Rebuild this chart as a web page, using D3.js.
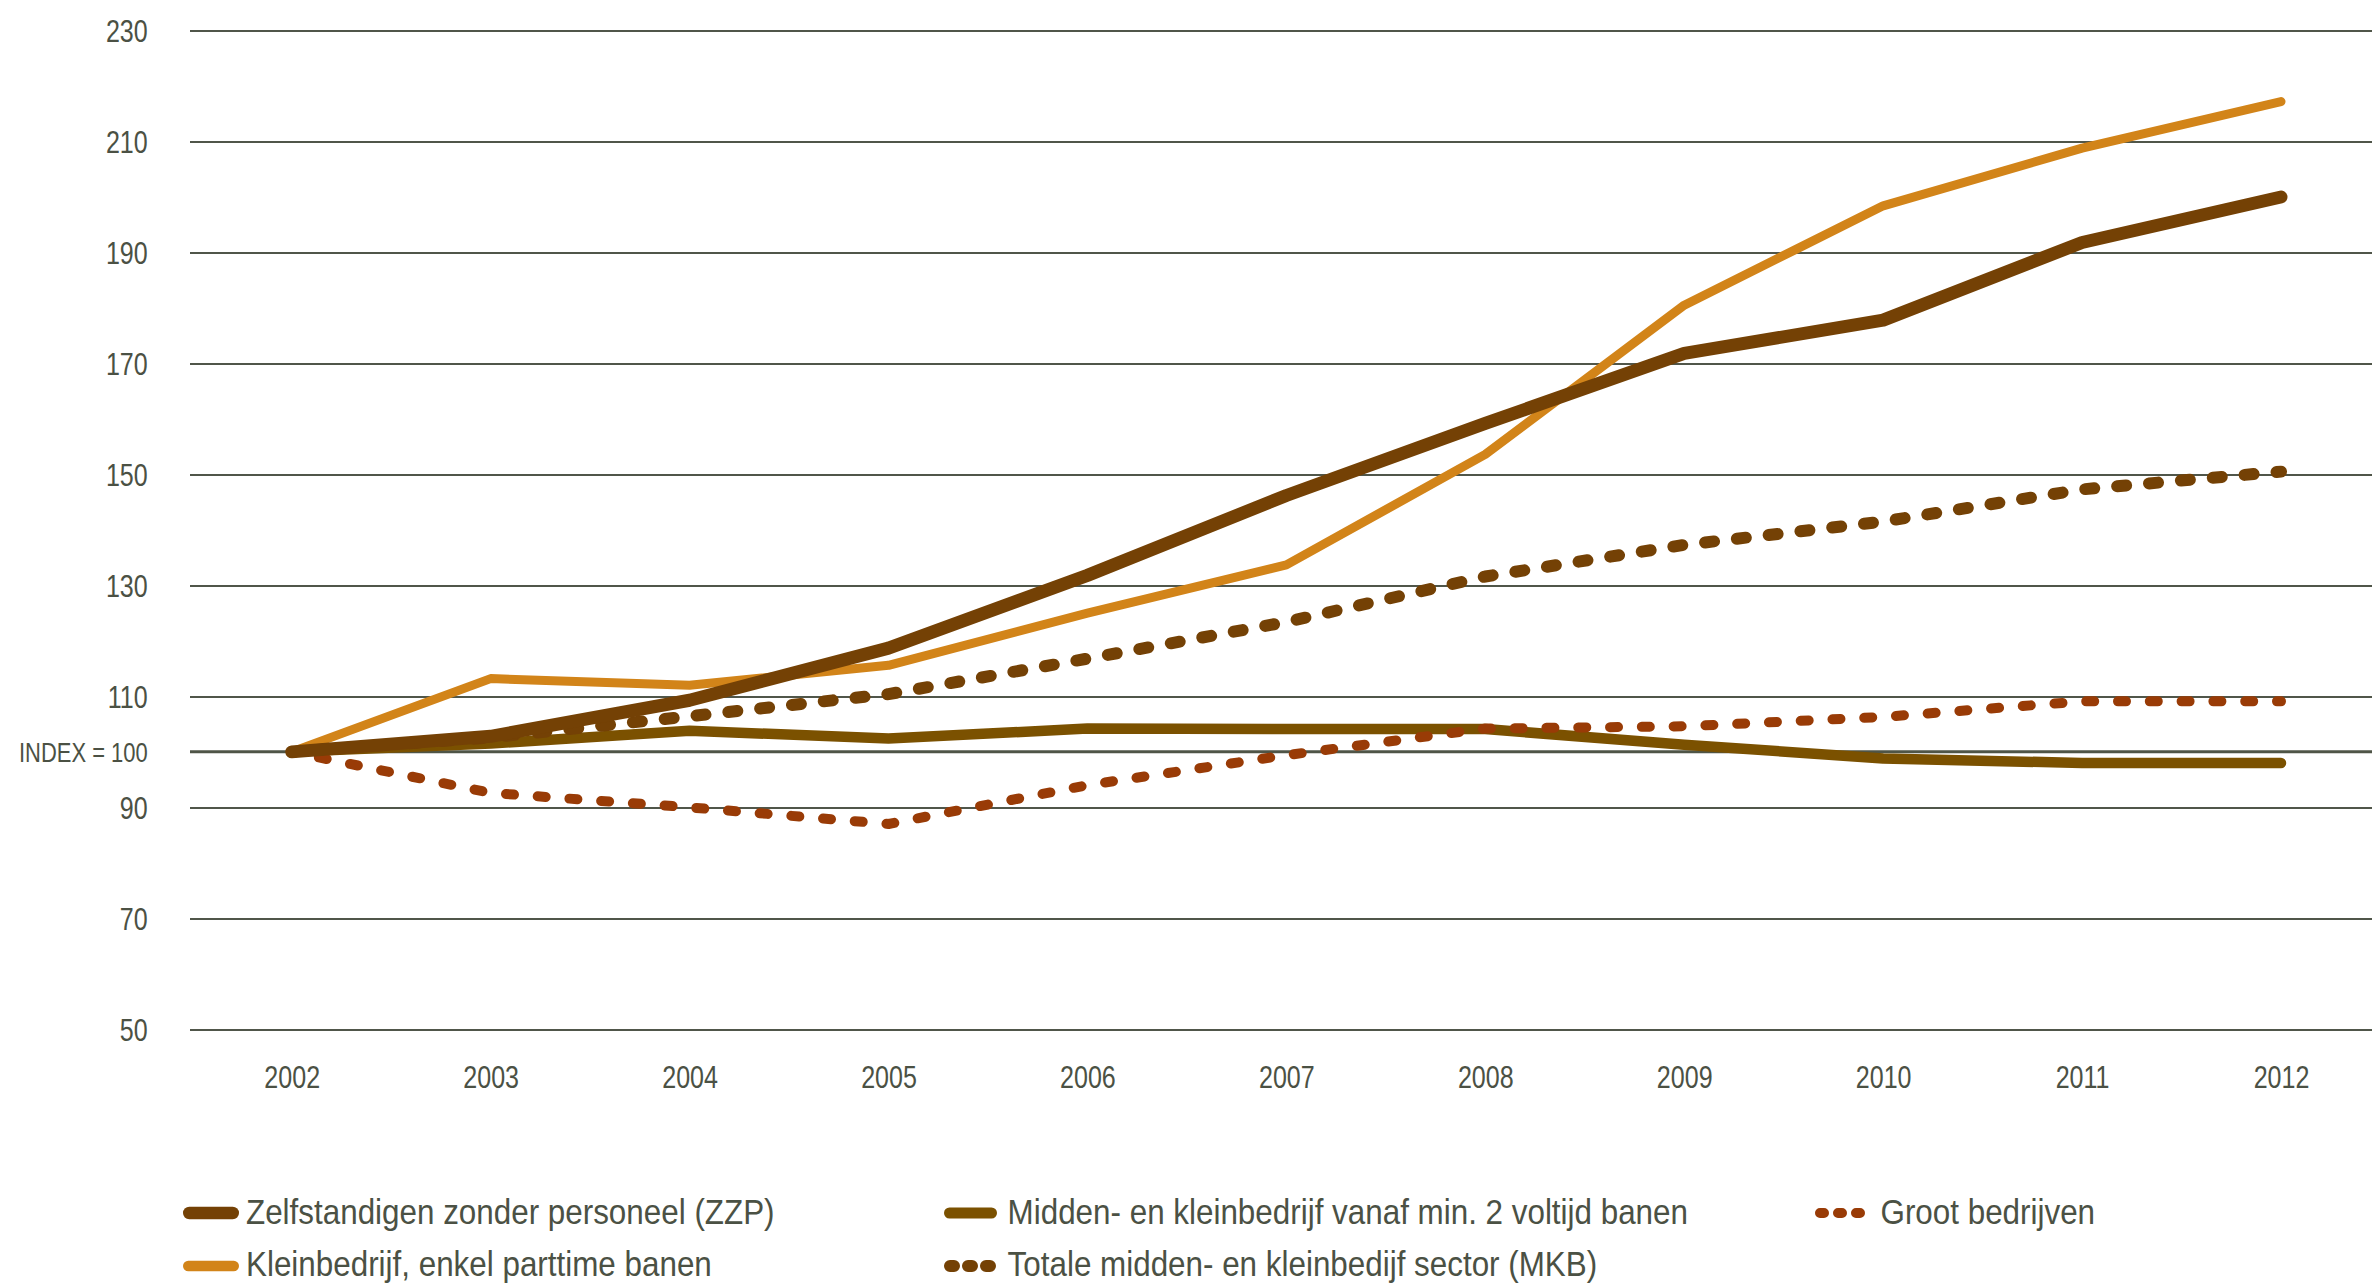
<!DOCTYPE html>
<html>
<head>
<meta charset="utf-8">
<script src="https://cdn.jsdelivr.net/npm/d3@7"></script>
<style>
  html, body { margin: 0; padding: 0; background: #ffffff; }
  svg { display: block; }
  text { font-family: "Liberation Sans", Arial, sans-serif; fill: #4b5144; }
</style>
</head>
<body>
<svg id="chart" width="2372" height="1287"></svg>
<script>
// ---------- data ----------
const years = [2002, 2003, 2004, 2005, 2006, 2007, 2008, 2009, 2010, 2011, 2012];
const zzp    = [100, 102.8, 109.3, 118.7, 131.8, 146.2, 159.2, 171.8, 177.8, 191.8, 200.0];
const klein  = [100, 113.2, 112.0, 115.6, 125.0, 133.7, 153.6, 180.5, 198.4, 208.8, 217.2];
const midden = [100, 101.5, 103.8, 102.4, 104.2, 104.1, 104.1, 101.3, 98.8, 98.0, 98.0];
const groot  = [100, 92.6, 90.0, 87.0, 94.0, 99.4, 104.2, 104.6, 106.3, 109.1, 109.1];
const mkb    = [100, 102.6, 106.4, 110.4, 116.8, 123.4, 131.6, 137.3, 141.5, 147.3, 150.5];

const yTicks = [50, 70, 90, 110, 130, 150, 170, 190, 210, 230];
const indexValue = 100;
const indexLabel = "INDEX = 100";

const seriesNames = [
  "Zelfstandigen zonder personeel (ZZP)",
  "Midden- en kleinbedrijf vanaf min. 2 voltijd banen",
  "Groot bedrijven",
  "Kleinbedrijf, enkel parttime banen",
  "Totale midden- en kleinbedijf sector (MKB)"
];

// ---------- styles ----------
const colors = {
  zzp: "#744105",
  klein: "#d28419",
  midden: "#7b5100",
  groot: "#993b06",
  mkb: "#744105"
};
const gridColor = "#50564a";

const svg = d3.select("#chart");

const x = d3.scalePoint().domain(years).range([291.7, 2281]);
const y = d3.scaleLinear().domain([50, 230]).range([1029.3, 30.5]);

const plotLeft = 190, plotRight = 2372;

// gridlines + y labels via axis
const yAxis = d3.axisLeft(y)
  .tickValues(yTicks)
  .tickSize(-(plotRight - plotLeft))
  .tickPadding(0)
  .tickFormat(d3.format("d"));

const gy = svg.append("g")
  .attr("transform", `translate(${plotLeft},0)`)
  .call(yAxis);
gy.select(".domain").remove();
gy.selectAll(".tick line")
  .attr("stroke", gridColor)
  .attr("stroke-width", 1.5)
  .attr("shape-rendering", "crispEdges");
gy.selectAll(".tick text")
  .attr("x", null).attr("dy", null)
  .attr("text-anchor", "end")
  .attr("dominant-baseline", "central")
  .style("font-size", "32px")
  .style("font-family", "'Liberation Sans', Arial, sans-serif")
  .attr("fill", "#4b5144")
  .attr("transform", `translate(${147.7 - plotLeft},0) scale(0.783,1)`);

// index line
svg.append("line")
  .attr("x1", plotLeft).attr("x2", plotRight)
  .attr("y1", y(indexValue)).attr("y2", y(indexValue))
  .attr("stroke", "#4f5547").attr("stroke-width", 3);
svg.append("text")
  .attr("transform", `translate(147.7,${y(indexValue)}) scale(0.773,1)`)
  .attr("text-anchor", "end")
  .attr("dominant-baseline", "central")
  .style("font-size", "28.4px")
  .text(indexLabel);

// x axis labels
const xAxis = d3.axisBottom(x).tickSize(0).tickPadding(0).tickFormat(d3.format("d"));
const gx = svg.append("g").attr("transform", "translate(0,1077)").call(xAxis);
gx.select(".domain").remove();
gx.selectAll(".tick text")
  .attr("y", null).attr("dy", null)
  .attr("dominant-baseline", "central")
  .attr("text-anchor", "middle")
  .style("font-size", "32px")
  .style("font-family", "'Liberation Sans', Arial, sans-serif")
  .attr("fill", "#4b5144")
  .attr("transform", "scale(0.783,1)");

// lines
const line = d3.line().x((d, i) => x(years[i])).y(d => y(d));

const series = [
  { data: klein,  color: colors.klein,  width: 9,    dash: null },
  { data: midden, color: colors.midden, width: 10.5, dash: null },
  { data: groot,  color: colors.groot,  width: 10,   dash: [8, 23.8] },
  { data: mkb,    color: colors.mkb,    width: 12,   dash: [9, 23] },
  { data: zzp,    color: colors.zzp,    width: 13,   dash: null }
];

const paths = svg.append("g").selectAll("path").data(series).join("path")
  .attr("d", s => line(s.data))
  .attr("fill", "none")
  .attr("stroke", s => s.color)
  .attr("stroke-width", s => s.width)
  .attr("stroke-linecap", "round")
  .attr("stroke-linejoin", "round")
  .attr("stroke-dasharray", s => s.dash ? s.dash.join(" ") : null);

// align dotted patterns so a dot sits on the final point
paths.filter(s => s.dash).each(function (s) {
  const L = this.getTotalLength();
  const P = s.dash[0] + s.dash[1];
  let o = (s.dash[0] / 2 - (L % P)) % P;
  if (o < 0) o += P;
  d3.select(this).attr("stroke-dashoffset", o);
});

// legend
const legendItems = [
  { name: seriesNames[0], color: colors.zzp,    width: 12.5, dash: null,   col: 0, row: 0 },
  { name: seriesNames[1], color: colors.midden, width: 11,   dash: null,   col: 1, row: 0 },
  { name: seriesNames[2], color: colors.groot,  width: 10,   dash: "4 14", col: 2, row: 0 },
  { name: seriesNames[3], color: colors.klein,  width: 10.5, dash: null,   col: 0, row: 1 },
  { name: seriesNames[4], color: colors.mkb,    width: 12,   dash: "4 14", col: 1, row: 1 }
];
const colSym = [[183, 239], [944, 997], [1815, 1869]];
const colText = [246, 1007.6, 1880.5];
const rowY = [1213, 1266];
const rowBase = [1224, 1275.5];

const lg = svg.append("g").selectAll("g").data(legendItems).join("g");
lg.append("line")
  .attr("x1", d => colSym[d.col][0] + d.width / 2)
  .attr("x2", d => colSym[d.col][1] - d.width / 2)
  .attr("y1", d => rowY[d.row]).attr("y2", d => rowY[d.row])
  .attr("stroke", d => d.color)
  .attr("stroke-width", d => d.width)
  .attr("stroke-linecap", "round")
  .attr("stroke-dasharray", d => d.dash);
lg.append("text")
  .attr("transform", d => `translate(${colText[d.col]},${rowBase[d.row]}) scale(0.897,1)`)
  .style("font-size", "35px")
  .text(d => d.name);
</script>
</body>
</html>
